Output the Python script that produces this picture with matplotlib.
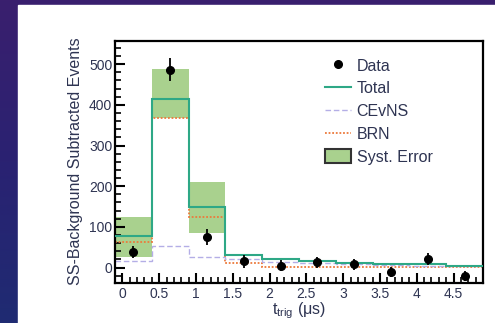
import matplotlib.pyplot as plt
import numpy as np
from matplotlib.lines import Line2D
from matplotlib.patches import Patch, Rectangle
from matplotlib.colors import LinearSegmentedColormap

plt.rcParams['font.family'] = ['Liberation Sans', 'DejaVu Sans']
plt.rcParams['mathtext.fontset'] = 'custom'
plt.rcParams['mathtext.rm'] = 'Liberation Sans'
plt.rcParams['mathtext.it'] = 'Liberation Sans:italic'

# bins in t_trig (us)
bin_edges = [-0.1, 0.4, 0.9, 1.4, 1.9, 2.4, 2.9, 3.4, 3.9, 4.4, 4.9]
bin_centers = [0.15, 0.65, 1.15, 1.65, 2.15, 2.65, 3.15, 3.65, 4.15, 4.65]

data = [39, 486, 75, 15, 5, 13, 8, -11, 21, -20]
data_err = [15, 28, 20, 15, 14, 14, 14, 12, 14, 12]

total = [78, 415, 150, 31, 20, 16, 12, 9, 8, 5]
cevns = [15, 52, 26, 22, 14, 10, 8, 6, 5, 4]
brn = [64, 367, 125, 11, 1, 1, 1, 1, 1, 1]

# systematic band (first three bins)
syst_edges = [-0.1, 0.4, 0.9, 1.4]
syst_lo = [27, 367, 84]
syst_hi = [125, 488, 211]

text_col = '#2e3452'
green = '#2ea886'
fill_green = '#a9d18e'
orange = '#ec7a3c'
lavender = '#b4aee6'


def main():
    fig = plt.figure(figsize=(4.95, 3.23), dpi=100)

    # slide background gradient + white panel
    bg = fig.add_axes([0, 0, 1, 1], zorder=-10)
    grad = np.linspace(0, 1, 256).reshape(-1, 1)
    cmap = LinearSegmentedColormap.from_list('bg', ['#3a1f6e', '#2a2272', '#1f2b72'])
    bg.imshow(grad, aspect='auto', cmap=cmap, extent=[0, 1, 0, 1], origin='upper')
    bg.add_patch(Rectangle((18 / 495, 0), 1, 1 - 5 / 323, color='white', transform=bg.transAxes))
    bg.set_xlim(0, 1); bg.set_ylim(0, 1)
    bg.axis('off')

    ax = fig.add_axes([115 / 495, 1 - 283 / 323, 368 / 495, 242 / 323])

    ax.stairs(syst_hi, syst_edges, baseline=syst_lo, fill=True, color=fill_green, lw=0, zorder=1)
    ax.stairs(brn, bin_edges, color=orange, lw=1.3, ls=(0, (1, 1)), baseline=None, zorder=2)
    ax.stairs(cevns, bin_edges, color=lavender, lw=1.0, ls=(0, (4, 2)), baseline=None, zorder=2)
    ax.stairs(total, bin_edges, color=green, lw=1.5, baseline=None, zorder=3)
    ax.errorbar(bin_centers, data, yerr=data_err, fmt='o', color='black', ms=5.5,
                elinewidth=1.3, capsize=0, zorder=4)

    ax.set_xlim(-0.1, 4.9)
    ax.set_ylim(-38, 557)
    ax.set_xticks([0, 0.5, 1, 1.5, 2, 2.5, 3, 3.5, 4, 4.5])
    ax.set_xticklabels(['0', '0.5', '1', '1.5', '2', '2.5', '3', '3.5', '4', '4.5'])
    ax.set_xticks(np.arange(0, 4.9, 0.1), minor=True)
    ax.set_yticks([0, 100, 200, 300, 400, 500])
    ax.set_yticks(np.arange(-20, 557, 20), minor=True)
    ax.tick_params(which='both', direction='in', top=False, right=False, colors='black',
                   labelcolor=text_col, labelsize=10)
    ax.tick_params(which='major', length=7, width=1.5)
    ax.tick_params(which='minor', length=4, width=1.2)
    ax.tick_params(axis='y', pad=2)
    ax.tick_params(axis='x', pad=3)
    for s in ax.spines.values():
        s.set_linewidth(1.6)

    ax.set_ylabel('SS-Background Subtracted Events', fontsize=11.5, color=text_col)
    ax.yaxis.set_label_coords(-0.087, 0.502)
    ax.set_xlabel(r'$\mathrm{t}_{\mathrm{trig}}$ (μs)', fontsize=11.5, color=text_col)
    ax.xaxis.set_label_coords(0.5, -0.072)

    handles = [
        Line2D([], [], marker='o', ls='none', color='black', ms=5.5),
        Line2D([], [], color=green, lw=1.5),
        Line2D([], [], color=lavender, lw=1.0, ls=(0, (4, 2))),
        Line2D([], [], color=orange, lw=1.3, ls=(0, (1, 1))),
        Patch(facecolor=fill_green, edgecolor='#333333', lw=1.5),
    ]
    labels = ['Data', 'Total', 'CEvNS', 'BRN', 'Syst. Error']
    leg = ax.legend(handles, labels, loc='upper left', bbox_to_anchor=(0.572, 0.93),
                    frameon=False, fontsize=11.5, borderpad=0, handlelength=1.6,
                    handletextpad=0.35, labelspacing=0.45, handleheight=1.0,
                    borderaxespad=0)
    for t in leg.get_texts():
        t.set_color(text_col)

    fig.savefig('out.png', dpi=100)


if __name__ == '__main__':
    main()
